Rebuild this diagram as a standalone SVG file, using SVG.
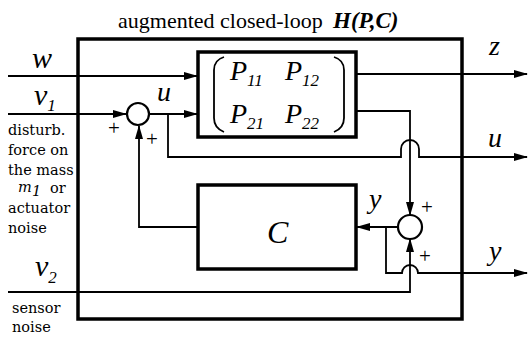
<svg xmlns="http://www.w3.org/2000/svg" width="529" height="340" viewBox="0 0 529 340">
<defs>
<style>
.box{fill:none;stroke:#000;stroke-width:3.5}
.ln{fill:none;stroke:#000;stroke-width:1.8}
.sum{fill:#fff;stroke:#000;stroke-width:2.2}
.t{font-family:"Liberation Serif",serif;fill:#000}
.v{font-family:"Liberation Serif",serif;font-style:italic;fill:#000}
.s{font-family:"DejaVu Serif","Liberation Serif",serif;font-size:14.5px;fill:#000}
.p{font-family:"Liberation Serif",serif;font-size:21px;fill:#000}
</style>
<marker id="ar" markerWidth="14" markerHeight="10" refX="13" refY="5" orient="auto" markerUnits="userSpaceOnUse">
<path d="M0,1 L14,5 L0,9 Z" fill="#000"/>
</marker>
</defs>
<rect width="529" height="340" fill="#fff"/>
<g id="title">
<text class="t" x="118" y="28" font-size="22">augmented closed-loop</text>
<text class="t" x="333" y="28" font-size="23" font-weight="bold" font-style="italic">H(P,C)</text>
</g>
<g id="outer"><rect class="box" x="78" y="39" width="384" height="280"/></g>
<g id="P">
<rect class="box" x="198" y="52" width="158" height="85"/>
<path class="ln" d="M224,57 Q214,60 214,70 L214,118 Q214,128 224,132"/>
<path class="ln" d="M334,57 Q344,60 344,70 L344,118 Q344,128 334,132"/>
<text class="v" x="230" y="80" font-size="28">P<tspan font-size="17" dy="6">11</tspan></text>
<text class="v" x="285" y="80" font-size="28">P<tspan font-size="17" dy="6">12</tspan></text>
<text class="v" x="230" y="123" font-size="28">P<tspan font-size="17" dy="6">21</tspan></text>
<text class="v" x="285" y="123" font-size="28">P<tspan font-size="17" dy="6">22</tspan></text>
</g>
<g id="C">
<rect class="box" x="198" y="185" width="158" height="84"/>
<text class="v" x="267" y="243" font-size="32">C</text>
</g>
<g id="connectors">
<path class="ln" d="M8,76 H197" marker-end="url(#ar)"/>
<path class="ln" d="M356,74 H527" marker-end="url(#ar)"/>
<path class="ln" d="M8,114 H126" marker-end="url(#ar)"/>
<path class="ln" d="M150,114 H197" marker-end="url(#ar)"/>
<path class="ln" d="M168,114 V157 H401 V149 A9,9 0 0 1 419,149 V157 H527" marker-end="url(#ar)"/>
<path class="ln" d="M198,227 H139 V126" marker-end="url(#ar)"/>
<path class="ln" d="M356,111 H410 V215" marker-end="url(#ar)"/>
<path class="ln" d="M398,227 H357" marker-end="url(#ar)"/>
<path class="ln" d="M386,227 V273 H402 A8,8 0 0 1 418,273 H527" marker-end="url(#ar)"/>
<path class="ln" d="M8,292 H410 V239" marker-end="url(#ar)"/>
</g>
<g id="sum1"><circle class="sum" cx="138" cy="114" r="11"/></g>
<g id="sum2"><circle class="sum" cx="410" cy="227" r="12"/></g>
<g id="signs">
<text class="p" x="108" y="135">+</text>
<text class="p" x="146" y="146">+</text>
<text class="p" x="421" y="214">+</text>
<text class="p" x="419" y="263">+</text>
</g>
<g id="labels">
<text class="v" x="32" y="68" font-size="30">w</text>
<text class="v" x="34" y="105" font-size="30">v<tspan font-size="17" dy="6">1</tspan></text>
<text class="v" x="35" y="276" font-size="30">v<tspan font-size="17" dy="7">2</tspan></text>
<text class="v" x="157" y="101" font-size="28">u</text>
<text class="v" x="369" y="208" font-size="28">y</text>
<text class="v" x="489" y="55" font-size="28">z</text>
<text class="v" x="488" y="147" font-size="28">u</text>
<text class="v" x="489" y="260" font-size="28">y</text>
<text class="s" x="8" y="135">disturb.</text>
<text class="s" x="8" y="155">force on</text>
<text class="s" x="8" y="175">the mass</text>
<text class="s" x="18" y="192" font-style="italic">m</text>
<text class="s" x="32" y="196" font-size="10" font-style="italic">1</text>
<text class="s" x="50" y="193">or</text>
<text class="s" x="8" y="213">actuator</text>
<text class="s" x="8" y="233">noise</text>
<text class="s" x="12" y="313">sensor</text>
<text class="s" x="12" y="332">noise</text>
</g>
</svg>
